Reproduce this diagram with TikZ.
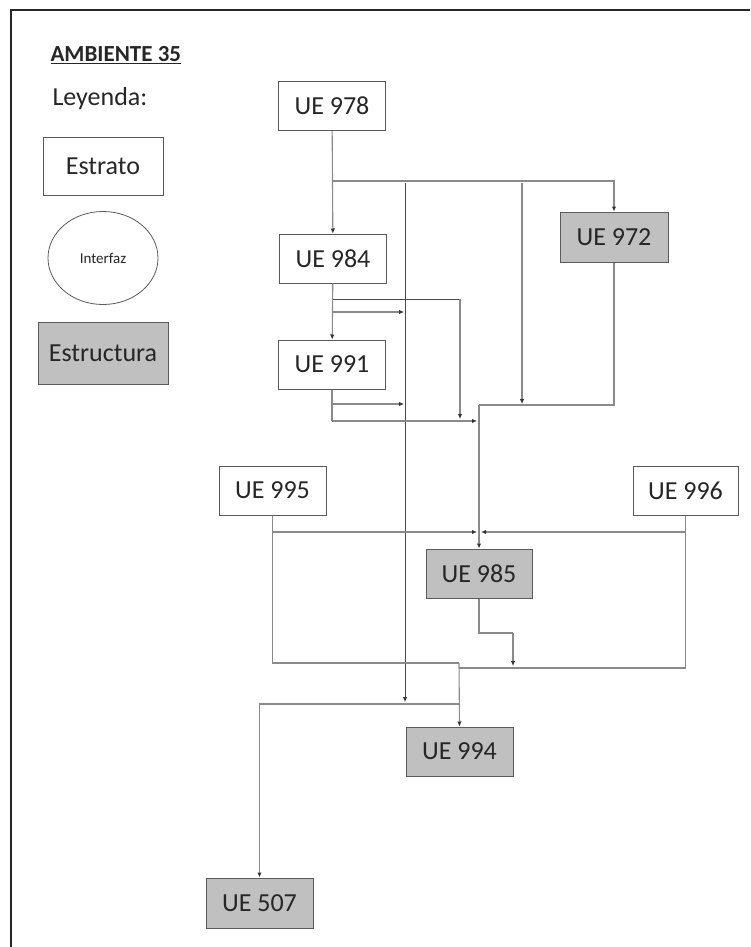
\documentclass[tikz,border=0pt]{standalone}
\usepackage{fontspec}
\setmainfont{Carlito}
\usetikzlibrary{arrows.meta,shapes.geometric}
\definecolor{lineg}{HTML}{8A8A8A}
\definecolor{lined}{HTML}{4A4A4A}
\definecolor{boxb}{HTML}{5A5A5A}
\definecolor{fillg}{HTML}{C0C0C0}
\tikzset{
  ue/.style={draw=boxb, line width=1pt, fill=white, rectangle, inner sep=0pt,
    minimum width=107pt, minimum height=49pt, font=\fontsize{26}{29}\selectfont, text=black!85},
  uegray/.style={ue, fill=fillg},
  conn/.style={draw=lineg, line width=1.1pt},
  conndark/.style={draw=lined, line width=0.8pt},
  arr/.style={-{Latex[length=5pt,width=4.5pt,color=black!80]}},
}
\begin{document}
\begin{tikzpicture}[x=1pt,y=-1pt]
\useasboundingbox (0,0) rectangle (750,947);
\fill[white] (0,0) rectangle (750,947);
% frame
\draw[line width=2pt, black!85] (11,947) -- (11,10) -- (750,10);

% legend
\node[anchor=base west, font=\fontsize{23}{26}\selectfont\bfseries, text=black!85] (title) at (47,62) {\underline{AMBIENTE 35}};
\node[anchor=base west, font=\fontsize{26}{30}\selectfont, text=black!85] (ley) at (49,106) {Leyenda:};
\node[ue, minimum width=120pt, minimum height=58pt, font=\fontsize{26}{30}\selectfont] (estrato) at (103,166) {Estrato};
\node[draw=boxb, line width=0.8pt, ellipse, minimum width=110pt, minimum height=93pt, inner sep=0pt, font=\fontsize{15}{18}\selectfont, text=black!85] (interfaz) at (103,258) {Interfaz};
\node[uegray, minimum width=130pt, minimum height=62pt, font=\fontsize{26}{30}\selectfont] (estructura) at (103,353) {Estructura};

% units
\node[ue] (e978) at (332,106) {UE 978};
\node[ue] (e984) at (333,258.5) {UE 984};
\node[uegray, minimum width=108pt, minimum height=50pt] (e972) at (614,237) {UE 972};
\node[ue] (e991) at (332,364.5) {UE 991};
\node[ue] (e995) at (272.5,490.5) {UE 995};
\node[ue, minimum width=105pt] (e996) at (685.5,490.5) {UE 996};
\node[uegray, minimum width=106pt] (e985) at (479,573.5) {UE 985};
\node[uegray] (e994) at (459.5,751.5) {UE 994};
\node[uegray, minimum height=50pt] (e507) at (259.5,903) {UE 507};

% junction coordinates
\coordinate (j978) at (333,181);
\coordinate (v405t) at (405,183);
\coordinate (v405b) at (405,702);
\coordinate (v522t) at (522,183);
\coordinate (v522b) at (522,404);
\coordinate (j984a) at (333,299);
\coordinate (c460) at (460,299);
\coordinate (j984ae) at (460,419);
\coordinate (j984b) at (333,312);
\coordinate (j984be) at (404,312);
\coordinate (j991a) at (332,404);
\coordinate (j991ae) at (404,404);
\coordinate (j991b) at (332,421);
\coordinate (j991be) at (477,421);
\coordinate (c479) at (479,405);
\coordinate (j995a) at (273,532);
\coordinate (m985l) at (477,532);
\coordinate (j996a) at (686,532);
\coordinate (m985r) at (481,532);
\coordinate (c459) at (459,663);
\coordinate (c459b) at (459,668);
\coordinate (j985b) at (513,633);
\coordinate (j985e) at (513,666);
\coordinate (j994) at (459,704);

% connectors
\draw[conn, arr] (e978) -- (e984);
\draw[conn, arr] (j978) -| (e972.north);
\draw[conndark, arr] (v405t) -- (v405b);
\draw[conn, arr] (v522t) -- (v522b);
\draw[conn, arr] (e984) -- (e991);
\draw[conndark] (j984a) -- (c460);
\draw[conn, arr] (c460) -- (j984ae);
\draw[conn, arr] (j984b) -- (j984be);
\draw[conn] (e991.south) -- (j991b);
\draw[conn, arr] (j991a) -- (j991ae);
\draw[conn, arr] (j991b) -- (j991be);
\draw[conn] (e972.south) |- (c479);
\draw[conn, arr] (c479) -- (e985.north);
\draw[conn] (e995.south) |- (c459);
\draw[conn, arr] (c459) -- (e994.north);
\draw[conn, arr] (j995a) -- (m985l);
\draw[conn, arr] (j996a) -- (m985r);
\draw[conn] (e996.south) |- (c459b);
\draw[conn] (e985.south) |- (j985b);
\draw[conn, arr] (j985b) -- (j985e);
\draw[conn, arr] (j994) -| (e507.north);
\end{tikzpicture}
\end{document}
